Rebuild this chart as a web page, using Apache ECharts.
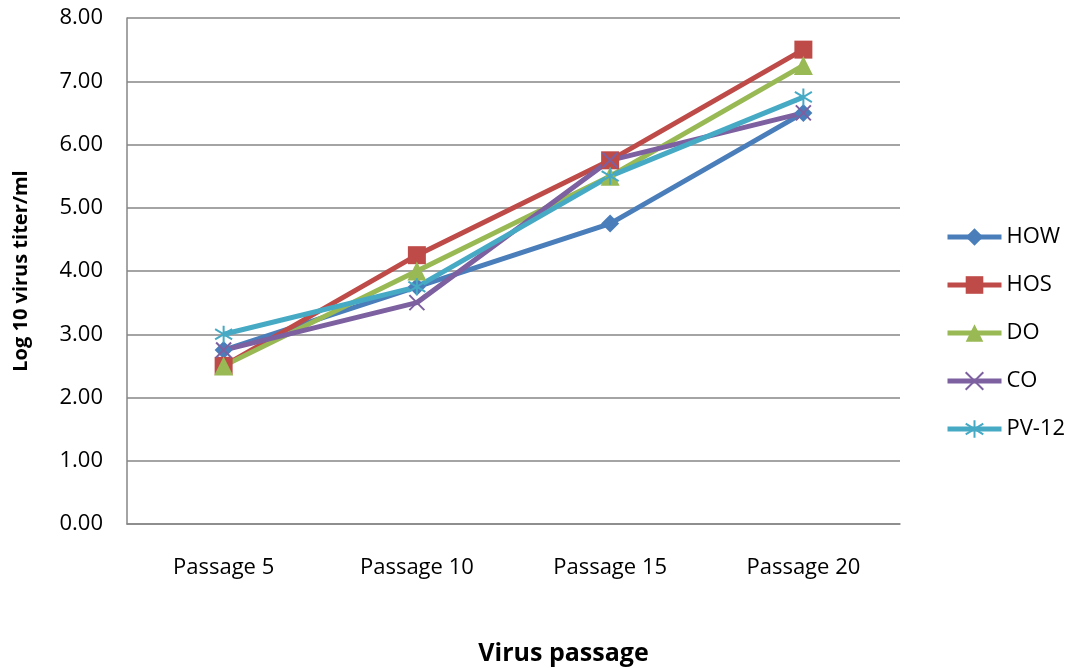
<!DOCTYPE html>
<html><head><meta charset="utf-8">
<script src="https://cdn.jsdelivr.net/npm/echarts@6/dist/echarts.min.js"></script>
<style>html,body{margin:0;padding:0;background:#fff}#c{width:1067px;height:668px}</style>
</head><body><div id="c"></div>
<script>
const categories = ['Passage 5', 'Passage 10', 'Passage 15', 'Passage 20'];
const seriesNames = ['HOW', 'HOS', 'DO', 'CO', 'PV-12'];
const HOW = [2.75, 3.75, 4.75, 6.5];
const HOS = [2.5, 4.25, 5.75, 7.5];
const DO = [2.5, 4.0, 5.5, 7.25];
const CO = [2.75, 3.5, 5.75, 6.5];
const PV12 = [3.0, 3.75, 5.5, 6.75];
const yTicks = [0, 1, 2, 3, 4, 5, 6, 7, 8];

const colors = ['#4a7ebb', '#be4b48', '#98b954', '#7d60a0', '#46aac5'];
const xPath = 'path://M0,0 L10,10 M10,0 L0,10';
const starPath = 'path://M5,0 L5,10 M0,2 L10,8 M10,2 L0,8';
const symbols = ['diamond', 'rect', 'triangle', xPath, starPath];
const sizes = [18, 18, 19, 15, 17];
const dataArr = [HOW, HOS, DO, CO, PV12];
const font = '"Open Sans", sans-serif';

const series = seriesNames.map((n, i) => {
  const isLineSym = i >= 3;
  return {
    name: n, type: 'line', data: dataArr[i],
    symbol: symbols[i], symbolSize: sizes[i],
    lineStyle: {color: colors[i], width: 5},
    itemStyle: isLineSym ? {color: 'transparent', borderColor: colors[i], borderWidth: 2} : {color: colors[i], borderColor: colors[i], borderWidth: 0},
    emphasis: {disabled: true},
    animation: false
  };
});

const chart = echarts.init(document.getElementById('c'));
chart.setOption({
  animation: false,
  color: colors,
  grid: {left: 127, right: 167, top: 18, bottom: 144, outerBoundsMode: 'none', containLabel: false},
  legend: {
    orient: 'vertical', left: 940, top: 221,
    itemWidth: 54, itemHeight: 22, itemGap: 26,
    lineStyle: {width: 5},
    textStyle: {fontFamily: font, fontSize: 22, lineHeight: 22, color: '#000'},
    data: seriesNames
  },
  xAxis: {
    type: 'category', data: categories, boundaryGap: true,
    name: 'Virus passage', nameLocation: 'middle', nameGap: 117,
    nameTextStyle: {fontFamily: font, fontSize: 25, fontWeight: 'bold', color: '#000', padding: [0, 0, 0, 100]},
    axisLine: {lineStyle: {color: '#868686', width: 1.5}},
    axisTick: {show: false},
    axisLabel: {fontFamily: font, fontSize: 22, color: '#000', margin: 33}
  },
  yAxis: {
    type: 'value', min: 0, max: 8, interval: 1,
    name: 'Log 10 virus titer/ml', nameLocation: 'middle', nameGap: 96,
    nameTextStyle: {fontFamily: font, fontSize: 20, fontWeight: 'bold', color: '#000'},
    axisLine: {show: true, lineStyle: {color: '#868686', width: 1.5}},
    axisTick: {show: false},
    splitLine: {lineStyle: {color: '#868686', width: 1.5}},
    axisLabel: {fontFamily: font, fontSize: 22, color: '#000', margin: 24,
      formatter: v => yTicks.includes(v) ? v.toFixed(2) : ''}
  },
  series: series
});
</script></body></html>
